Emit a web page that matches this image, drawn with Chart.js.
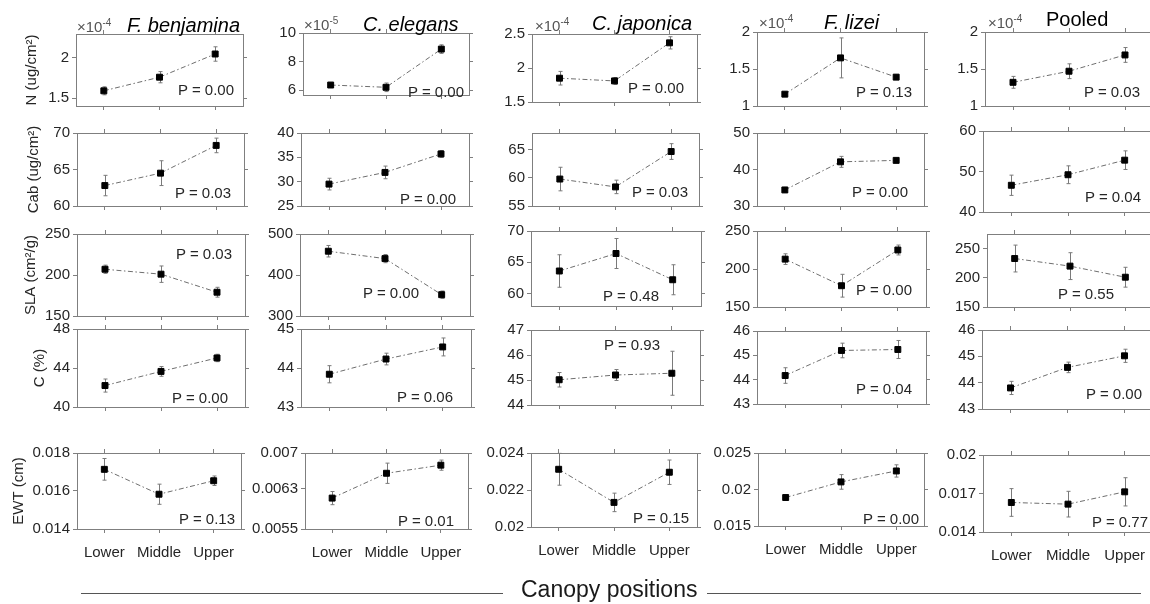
<!DOCTYPE html>
<html>
<head>
<meta charset="utf-8">
<script src="https://cdn.jsdelivr.net/npm/chart.js@4.4.1/dist/chart.umd.min.js"></script>
<style>
  html, body { margin: 0; padding: 0; background: #fff; }
  body { width: 1150px; height: 604px; position: relative; overflow: hidden;
         font-family: "Liberation Sans", Arial, sans-serif; }
  canvas { position: absolute; }
  .txt { position: absolute; white-space: nowrap; line-height: 1; color: #262626; }
  .rule { position: absolute; height: 0; border-top: 1px solid #555; }
</style>
</head>
<body>
<script>
// ── Data ────────────────────────────────────────────────────

const positions = ["Lower", "Middle", "Upper"];
const species = ["F. benjamina", "C. elegans", "C. japonica", "F. lizei", "Pooled"];
const traits = ["N (ug/cm²)", "Cab (ug/cm²)", "SLA (cm²/g)", "C (%)", "EWT (cm)"];

// N, shown in units of 10^exponent
const nMean  = [[1.59, 1.76, 2.05], [6.35, 6.19, 8.87], [1.85, 1.81, 2.37], [1.16, 1.65, 1.39], [1.32, 1.47, 1.69]];
const nErr   = [[0.05, 0.07, 0.09], [0.06, 0.3, 0.3], [0.1, 0.05, 0.09], [0.02, 0.27, 0.03], [0.08, 0.1, 0.1]];
const nExp   = ["-4", "-5", "-4", "-4", "-4"];
const nP     = ["0.00", "0.00", "0.00", "0.13", "0.03"];
const nTicks = [[1.5, 2], [6, 8, 10], [1.5, 2, 2.5], [1, 1.5, 2], [1, 1.5, 2]];
const nLim   = [[1.4, 2.3], [5.65, 10], [1.5, 2.5], [1, 2], [1, 2]];

const cabMean  = [[62.8, 64.5, 68.3], [29.5, 31.9, 35.7], [59.8, 58.4, 64.7], [34.4, 42.1, 42.5], [46.6, 49.2, 52.8]];
const cabErr   = [[1.4, 1.7, 1.0], [1.2, 1.3, 0.7], [2.1, 1.2, 1.4], [0.7, 1.5, 0.5], [2.5, 2.2, 2.3]];
const cabP     = ["0.03", "0.00", "0.03", "0.00", "0.04"];
const cabTicks = [[60, 65, 70], [25, 30, 35, 40], [55, 60, 65], [30, 40, 50], [40, 50, 60]];
const cabLim   = [[60, 70], [25, 40], [55, 68], [30, 50], [40, 60]];

const slaMean  = [[207, 201, 179], [458, 440, 352], [63.6, 66.4, 62.2], [213, 178, 225], [233, 220, 201]];
const slaErr   = [[5, 10, 6], [14, 10, 9], [2.6, 2.4, 2.4], [7, 15, 6.5], [23, 23, 17]];
const slaP     = ["0.03", "0.00", "0.48", "0.00", "0.55"];
const slaTicks = [[150, 200, 250], [300, 400, 500], [60, 65, 70], [150, 200, 250], [150, 200, 250]];
const slaLim   = [[150, 250], [300, 500], [58, 70], [150, 250], [150, 275]];

const cMean  = [[42.2, 43.65, 45.03], [43.84, 44.23, 44.54], [45.01, 45.2, 45.27], [44.17, 45.2, 45.24], [43.8, 44.58, 45.02]];
const cErr   = [[0.67, 0.5, 0.38], [0.22, 0.15, 0.23], [0.29, 0.22, 0.88], [0.32, 0.3, 0.37], [0.25, 0.2, 0.25]];
const cP     = ["0.00", "0.06", "0.93", "0.04", "0.00"];
const cTicks = [[40, 44, 48], [43, 44, 45], [44, 45, 46, 47], [43, 44, 45, 46], [43, 44, 45, 46]];
const cLim   = [[40, 48], [43, 45], [44, 47], [43, 46], [43, 46]];

const ewtMean  = [[0.01714, 0.01583, 0.01654], [0.00611, 0.0066, 0.00676], [0.02312, 0.02133, 0.02296],
                  [0.0189, 0.02104, 0.02254], [0.0163, 0.01617, 0.01713]];
const ewtErr   = [[0.00057, 0.00053, 0.00025], [0.00013, 0.0002, 0.0001], [0.00086, 0.0005, 0.00066],
                  [0.0002, 0.001, 0.00084], [0.00108, 0.001, 0.0011]];
const ewtP     = ["0.13", "0.01", "0.15", "0.00", "0.77"];
const ewtTicks = [[0.014, 0.016, 0.018], [0.0055, 0.0063, 0.007], [0.02, 0.022, 0.024], [0.015, 0.02, 0.025], [0.014, 0.017, 0.02]];
const ewtLim   = [[0.014, 0.018], [0.0055, 0.007], [0.02, 0.024], [0.015, 0.025], [0.014, 0.02]];

// ── Layout (page pixels) ────────────────────────────────────

// plot box of every panel: [left, top, right, bottom]
const boxes = [
  [[76, 34, 243, 106], [303, 33, 469, 95], [532, 34, 697, 102], [757, 32, 924, 106], [985, 32, 1153, 106]],
  [[77, 133, 244, 206], [301, 133, 469, 206], [532, 133, 699, 206], [757, 133, 924, 206], [983, 131, 1153, 212]],
  [[77, 234, 245, 316], [300, 234, 470, 316], [531, 231, 701, 306], [757, 231, 926, 307], [987, 234, 1153, 307]],
  [[77, 329, 245, 407], [301, 329, 471, 407], [531, 330, 700, 405], [757, 331, 926, 404], [982, 330, 1153, 409]],
  [[77, 453, 241, 529], [305, 453, 468, 529], [531, 453, 697, 527], [758, 453, 924, 526], [983, 455, 1153, 532]]
];
// P label: [left x, centre y]
const pPos = [
  [[178, 89], [408, 91], [628, 87], [856, 91], [1084, 91]],
  [[175, 192], [400, 198], [632, 191], [852, 191], [1085, 196]],
  [[176, 253], [363, 292], [603, 295], [856, 289], [1058, 293]],
  [[172, 397], [397, 396], [604, 344], [856, 388], [1086, 393]],
  [[179, 518], [398, 520], [633, 517], [863, 518], [1092, 521]]
];
const yTitleX = [32, 34, 31, 40, 19];            // centre x of the y titles
const titlePos = [[127, 32], [363, 31], [592, 30], [824, 29], [1046, 26]];
const expPos = [[77, 32], [304, 30], [535, 31], [759, 28], [988, 28]];

const AXIS = "#7f7f7f";
const TEXT = "#262626";
const TICK_LEN = 4;
const TOP_H = 14, RIGHT_W = 10, BOTTOM_H = 44;

Chart.defaults.font.family = "'Liberation Sans', Arial, sans-serif";
Chart.defaults.font.size = 15;
Chart.defaults.color = TEXT;

const rows = [
  { mean: nMean, err: nErr, p: nP, ticks: nTicks, lim: nLim },
  { mean: cabMean, err: cabErr, p: cabP, ticks: cabTicks, lim: cabLim },
  { mean: slaMean, err: slaErr, p: slaP, ticks: slaTicks, lim: slaLim },
  { mean: cMean, err: cErr, p: cP, ticks: cTicks, lim: cLim },
  { mean: ewtMean, err: ewtErr, p: ewtP, ticks: ewtTicks, lim: ewtLim }
];

// ── Error bars ──────────────────────────────────────────────

const errorBars = {
  id: "errorBars",
  beforeDatasetsDraw(chart, args, opts) {
    const { ctx, scales: { x, y } } = chart;
    const data = chart.data.datasets[0].data;
    ctx.save();
    ctx.strokeStyle = "#7a7a7a";
    ctx.lineWidth = 1;
    data.forEach((v, i) => {
      const px = Math.round(x.getPixelForValue(i)) + 0.5;
      const top = y.getPixelForValue(v + opts.errors[i]);
      const bot = y.getPixelForValue(v - opts.errors[i]);
      ctx.beginPath();
      ctx.moveTo(px, top); ctx.lineTo(px, bot);
      ctx.moveTo(px - 2, top); ctx.lineTo(px + 2, top);
      ctx.moveTo(px - 2, bot); ctx.lineTo(px + 2, bot);
      ctx.stroke();
    });
    ctx.restore();
  }
};

// ── Helpers ─────────────────────────────────────────────────

function addText(html, x, baseline, size, style) {
  const d = document.createElement("div");
  d.className = "txt";
  d.innerHTML = html;
  d.style.left = x + "px";
  d.style.top = (baseline - 0.8465 * size) + "px";
  d.style.fontSize = size + "px";
  if (style) Object.assign(d.style, style);
  document.body.appendChild(d);
}

function setTicks(values) {
  return s => { s.ticks = values.map(v => ({ value: v })); };
}

function axisGrid() {
  return { drawOnChartArea: false, drawTicks: true, tickLength: TICK_LEN, color: AXIS, offset: false };
}

// ── Panels ──────────────────────────────────────────────────

function makePanel(r, c) {
  const [l, t, rt, b] = boxes[r][c];
  const row = rows[r];
  const yw = c === 0 ? l - (yTitleX[r] - 9) : 60;
  const w = (rt - l) + yw + RIGHT_W;
  const h = (b - t) + TOP_H + BOTTOM_H;

  const canvas = document.createElement("canvas");
  canvas.width = w;
  canvas.height = h;
  canvas.style.left = (l - yw) + "px";
  canvas.style.top = (t - TOP_H) + "px";
  document.body.appendChild(canvas);

  const [ymin, ymax] = row.lim[c];
  const border = { display: true, color: AXIS, width: 1 };

  new Chart(canvas, {
    type: "line",
    data: {
      labels: positions,
      datasets: [{
        data: row.mean[c],
        borderColor: "#6e6e6e",
        borderWidth: 1,
        borderDash: [5, 2.5, 1.5, 2.5],
        pointStyle: "rect",
        pointRadius: 4.2,
        pointBackgroundColor: "#000",
        pointBorderColor: "#000",
        pointBorderWidth: 1,
        fill: false,
        tension: 0,
        clip: false
      }]
    },
    options: {
      responsive: false,
      animation: false,
      devicePixelRatio: 1,
      layout: { padding: 0 },
      events: [],
      plugins: {
        legend: { display: false },
        tooltip: { enabled: false },
        errorBars: { errors: row.err[c] }
      },
      scales: {
        x: {
          type: "category", position: "bottom", offset: true,
          grid: axisGrid(), border,
          ticks: { display: r === 4, padding: 11, maxRotation: 0, autoSkip: false, color: TEXT },
          afterFit: s => { s.height = BOTTOM_H; }
        },
        xTop: {
          type: "category", position: "top", offset: true,
          grid: axisGrid(), border,
          ticks: { display: false },
          afterFit: s => { s.height = TOP_H; }
        },
        y: {
          type: "linear", position: "left", min: ymin, max: ymax,
          afterBuildTicks: setTicks(row.ticks[c]),
          grid: axisGrid(), border,
          ticks: { padding: 3, color: TEXT, callback: v => String(v) },
          title: { display: c === 0, text: traits[r], padding: 0, color: TEXT, font: { size: 15 } },
          afterFit: s => { s.width = yw; }
        },
        yRight: {
          type: "linear", position: "right", min: ymin, max: ymax,
          afterBuildTicks: setTicks(row.ticks[c]),
          grid: axisGrid(), border,
          ticks: { display: false },
          afterFit: s => { s.width = RIGHT_W; }
        }
      }
    },
    plugins: [errorBars]
  });

  const [px, py] = pPos[r][c];
  addText("P = " + row.p[c], px, py + 5.4, 15);
}

for (let r = 0; r < rows.length; r++) {
  for (let c = 0; c < species.length; c++) makePanel(r, c);
}

// ── Headings ────────────────────────────────────────────────

species.forEach((name, c) => {
  const [x, y] = titlePos[c];
  addText(name, x, y, 20, { color: "#000", fontStyle: c === 4 ? "normal" : "italic" });
  const [ex, ey] = expPos[c];
  addText('×10<span style="position:relative;top:-6px;font-size:10px">' + nExp[c] + "</span>",
          ex, ey, 15, { color: "#555" });
});

addText("Canopy positions", 521, 597.5, 23, { color: "#1a1a1a" });
[[81, 503], [707, 1141]].forEach(([x0, x1]) => {
  const d = document.createElement("div");
  d.className = "rule";
  d.style.left = x0 + "px";
  d.style.top = "593px";
  d.style.width = (x1 - x0) + "px";
  document.body.appendChild(d);
});
</script>
</body>
</html>
